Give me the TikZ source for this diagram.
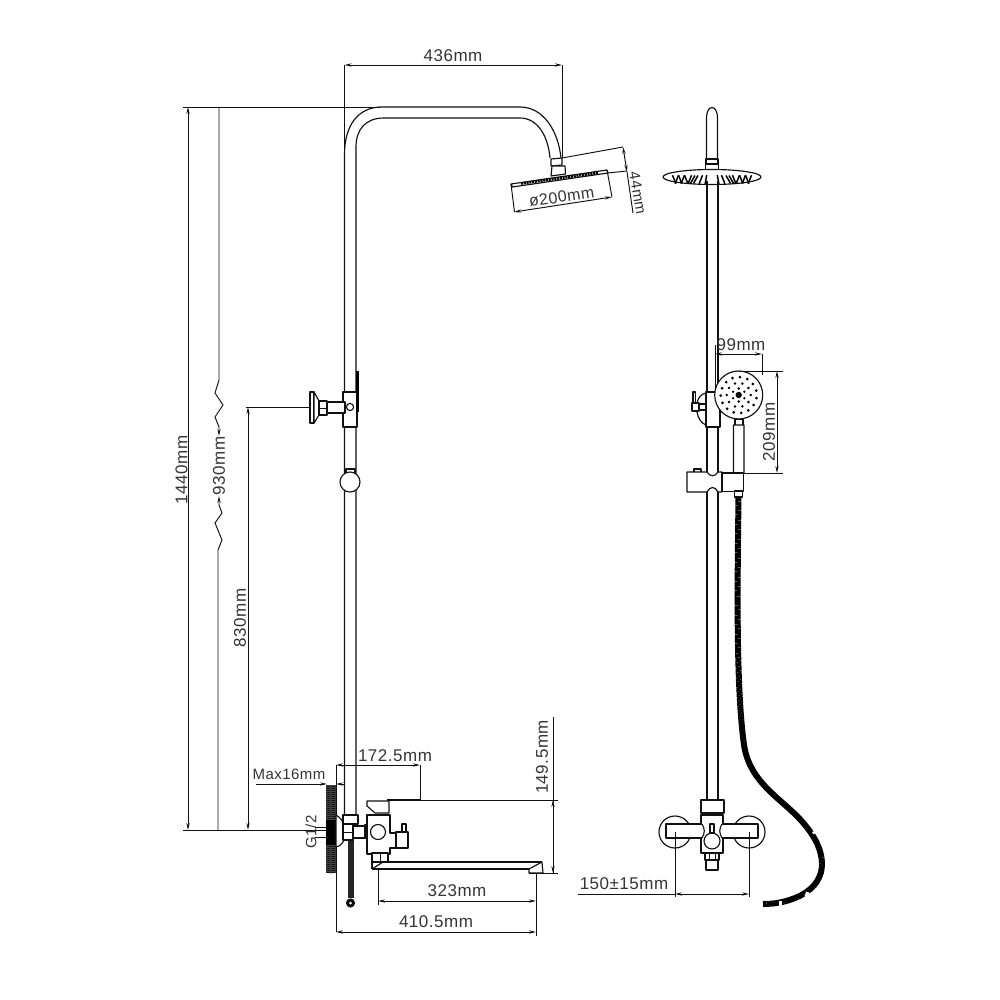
\documentclass[tikz,border=0pt]{standalone}
\usepackage{fontspec}
\setmainfont{Liberation Sans}[LetterSpace=3]
\usetikzlibrary{arrows.meta}
\definecolor{ink}{HTML}{111111}
\tikzset{
  obj/.style={line width=1.15pt,draw=ink,line join=round},
  thinl/.style={line width=.95pt,draw=ink},
  dimen/.style={line width=.95pt,draw=ink,{Stealth[length=7pt,width=3.2pt]}-{Stealth[length=7pt,width=3.2pt]}},
  tipend/.style={line width=.95pt,draw=ink,-{Stealth[length=7pt,width=3.2pt]}},
  lab/.style={inner sep=0pt,text=ink!85,font=\fontsize{17}{17}\selectfont},
  hatch/.style={line width=.6pt,draw=black},
}
\begin{document}
\begin{tikzpicture}[x=1pt,y=-1pt]
\path[use as bounding box,fill=white] (0,0) rectangle (1000,1000);

%% ---- LEFT VIEW ----
% riser and arm
\draw[obj] (344.5,815) -- (344.5,153) .. controls (345,125) and (358,108) .. (380,107) -- (520,107)
  .. controls (543,107) and (558,130) .. (561,158);
\draw[obj] (356,815) -- (356,147) .. controls (356,130) and (365,118) .. (384,118) -- (520,118)
  .. controls (537,118) and (548,135) .. (550,158);
% neck
\draw[obj,fill=white] (551,159) -- (562,158) -- (562,165) -- (551,166) -- cycle;
\draw[obj,fill=white] (552,166) -- (565,166) -- (565.5,174) -- (551,176) -- cycle;
% head
\draw[obj,fill=white] (511,184) -- (607,170) -- (608,173) -- (512.5,187) -- cycle;
\draw[line width=2.6pt,draw=black,dash pattern=on 2pt off .8pt] (521,183.5) -- (598,172.8);
% head dimensions
\draw[thinl] (511,184) -- (514.5,212);
\draw[thinl] (607,170) -- (612,197);
\draw[dimen] (514,212) -- (612,197);
\node[lab,rotate=8,font=\fontsize{16}{16}\selectfont] (d200) at (561.5,197) {ø200mm};
\draw[thinl] (562,158) -- (623,147);
\draw[thinl] (608,173) -- (627,171);
\draw[dimen] (623,147) -- (627,172);
\draw[thinl] (627,172) -- (633,213);
\node[lab,rotate=-80,font=\fontsize{15}{15}\selectfont] (d44) at (638,193) {44mm};
% 436
\draw[thinl] (344.5,65) -- (344.5,153);
\draw[thinl] (562,65) -- (562,158);
\draw[dimen] (344.5,65) -- (562,65);
\node[lab] (d436) at (453,56) {436mm};

% long dimensions
\draw[thinl] (183,107) -- (380,107);
\draw[thinl] (183,830) -- (345,830);
\draw[dimen] (188,107) -- (188,830);
\node[lab,rotate=90] (d1440) at (181.5,470) {1440mm};
\draw[tipend] (219,107) -- (219,380) -- (215,393) -- (223,405) -- (215,417) -- (219,427) -- (219,436);
\draw[tipend] (218,830) -- (218,550) -- (222,540) -- (215,523) -- (222,513) -- (219,505) -- (219,496);
\node[lab,rotate=90] (d930) at (219,466) {930mm};
\draw[thinl] (246,407) -- (310,407);
\draw[dimen] (248,407) -- (248,830);
\node[lab,rotate=90] (d830) at (240,618) {830mm};

% slider bracket
\draw[obj,fill=white] (343,392) rectangle (357,427);
\draw[line width=2.4pt,draw=black,dash pattern=on 2.5pt off .5pt] (357.5,371) -- (357.5,412);
\draw[obj,fill=white] (310,392) rectangle (314,423);
\draw[obj,fill=white] (314,392) -- (319,401) -- (319,415) -- (314,423) -- cycle;
\draw[obj,fill=white] (319,401) rectangle (327,415);
\draw[thinl] (319,408) -- (327,408);
\draw[obj,fill=white] (327,402) -- (345,402) -- (345,413) -- (327,413) -- cycle;
\draw[obj,fill=white] (350,407) circle[radius=3.6pt];
% ball
\draw[obj,fill=white] (346,469) rectangle (355,474);
\draw[obj,fill=white] (350,482) circle[radius=10pt];

% dim 172.5 & Max16
\draw[thinl] (336,765) -- (336,932);
\draw[dimen] (336,765) -- (420,765);
\draw[thinl] (420,765) -- (420,800);
\node[lab] (d172) at (395,756) {172.5mm};
\draw[tipend] (256,784) -- (327,784);
\draw[tipend] (344,784) -- (336,784);
\node[lab,font=\fontsize{15}{15}\selectfont] (dmax) at (289,774) {Max16mm};
\node[lab,rotate=90,font=\fontsize{15}{15}\selectfont] (dg) at (311,832) {G1/2};

% wall
\fill[black!70] (326,785) rectangle (336,873);
\foreach \yy in {786,788,...,872} \draw[hatch,black] (326,\yy) -- (331,\yy+1) -- (336,\yy);
\fill[black] (326,820) rectangle (336,845);
% supply
\draw[thinl] (315,827) -- (326,827);
\draw[thinl] (315,837) -- (326,837);
% flange
\draw[obj,fill=white] (336,815) .. controls (341,818) and (344,822) .. (344,827) -- (344,838)
   .. controls (344,842) and (341,846) .. (336,847) -- cycle;
% rod
\draw[line width=6pt,draw=black!85] (350.5,840) -- (350.5,898);
\draw[obj,fill=black] (350.5,903) circle[radius=4pt];
\fill[white] (350.5,903) circle[radius=1.5pt];
% diverter
\draw[obj,fill=white] (343,815) rectangle (358,824);
\draw[obj,fill=white] (353,826) rectangle (366,838);
\draw[obj,fill=white] (343,824) rectangle (353,840);
\draw[thinl] (343,832) -- (353,832);
\draw[obj,fill=white] (365,825) rectangle (370,837);
% body
\draw[obj,fill=white] (367,815) -- (390,815) -- (390,833) -- (396,833) -- (396,848) -- (390,848) -- (390,854) -- (367,854) -- cycle;
\draw[obj,fill=white] (378,832) circle[radius=7.5pt];
\draw[obj,fill=white] (396,832) rectangle (408,848);
\draw[obj,fill=white] (402,824) rectangle (406,832);
% lever
\draw[obj,fill=white] (367,801) -- (389,801) -- (389,813) -- (375,813) -- (367,806) -- cycle;
\draw[line width=1.6pt,draw=ink] (387,800) -- (420,800);
\draw[thinl] (420,800) -- (558,800);
% spout
\draw[obj,fill=white] (372,853) rectangle (388,862);
\draw[obj] (372,862) -- (372,869);
\draw[obj] (372,869) -- (383,862);
\draw[thinl] (380,853) -- (380,862);
\draw[obj] (372,862) -- (542,862);
\draw[obj] (372,869) -- (529,869);
\draw[obj,fill=white] (542,862) -- (529,869) -- (529,873) -- (543,873) -- cycle;
% lower dims
\draw[thinl] (378,869) -- (378,905);
\draw[thinl] (536,873) -- (536,936);
\draw[dimen] (378,901) -- (536,901);
\node[lab] (d323) at (457,891) {323mm};
\draw[dimen] (336,932) -- (536,932);
\node[lab] (d410) at (436,922) {410.5mm};
% 149.5
\draw[thinl] (553,717) -- (553,873);
\draw[dimen] (553,800) -- (553,873);
\draw[thinl] (529,873) -- (558,873);
\node[lab,rotate=90] (d149) at (542,757) {149.5mm};

%% ---- RIGHT VIEW ----
% arm
\draw[obj] (706.5,159) -- (706.5,118) .. controls (706.5,104) and (717.5,104) .. (717.5,118) -- (717.5,159);
\draw[obj,fill=white] (706,159) rectangle (718,164);
\draw[obj,fill=white] (705.5,164) rectangle (718.5,172);
\draw[obj,fill=white] (712,177) ellipse[x radius=49pt,y radius=7.5pt];
\foreach \xx/\aa in {674/22,677/-22,680/22,683/-22,686/22,690/-22,693/-30,696/-30,701/-22,706/-10,718/10,723/22,728/30,731/30,734/22,738/-22,741/22,744/-22,747/22,750/-22}{
  \draw[line width=1.5pt,draw=black,rotate around={\aa:(\xx,179)}] (\xx,175) -- (\xx,184);
}
% riser
\draw[obj] (707,181) -- (707,392);
\draw[obj] (718,181) -- (718,392);
\draw[obj] (707,427) -- (707,472);
\draw[obj] (718,427) -- (718,472);
\draw[obj] (707,492) -- (707,800);
\draw[obj] (718,492) -- (718,800);
% 99mm
\draw[thinl] (715,345) -- (715,392);
\draw[thinl] (762,354) -- (762,375);
\draw[dimen] (715,354) -- (762,354);
\node[lab] (d99) at (741,345) {99mm};
% valve behind
\draw[obj] (706,393) .. controls (701,394) and (698,398) .. (697,403);
\draw[obj] (697,412) .. controls (698,418) and (701,423) .. (706,425);
\draw[obj,fill=white] (693,392) rectangle (695.5,403);
\draw[obj,fill=white] (692,403) rectangle (699,411);
\draw[obj,fill=white] (699,404) rectangle (706,410);
\draw[obj,fill=white] (706,392) rectangle (720,427);
% handset
\draw[obj,fill=white] (735,419) rectangle (743,426);
\draw[obj,fill=white] (733.5,425) -- (744,425) -- (744,473) .. controls (740,475) and (737,475) .. (733.5,473) -- cycle;
\draw[obj,fill=white] (738.7,395) circle[radius=24pt];
\fill[black] (738.7,395) circle[radius=3.2pt];
\foreach \a in {0,60,...,300} \fill[black] ({738.7+6.5*cos(\a+30)},{395+6.5*sin(\a+30)}) circle[radius=1.3pt];
\foreach \a in {0,36,...,324} \fill[black] ({738.7+12*cos(\a)},{395+12*sin(\a)}) circle[radius=1.4pt];
\foreach \a in {0,24,...,336} \fill[black] ({738.7+18*cos(\a+10)},{395+18*sin(\a+10)}) circle[radius=1.5pt];
% 209
\draw[thinl] (739,371) -- (783,371);
\draw[thinl] (743,473) -- (783,473);
\draw[dimen] (777,371) -- (777,473);
\node[lab,rotate=90] (d209) at (769,432) {209mm};
% holder
\draw[obj,fill=white] (694,469) rectangle (701,472.5);
\draw[obj,fill=white] (722,473) rectangle (743.5,491.5);
\draw[obj,fill=white] (687,472) -- (707,472) .. controls (710,477) and (715,477) .. (718,472) -- (722,472) -- (722,492) -- (718,492)
  .. controls (715,486) and (710,486) .. (707,492) -- (687,492) -- cycle;
\draw[line width=2pt,draw=ink] (722,472) -- (722,492);
% hose
\draw[line width=6pt,draw=black,dash pattern=on 1.6pt off .3pt]
  (738.5,492) .. controls (738,560) and (735,680) .. (744,745)
  .. controls (750,785) and (785,800) .. (805,825)
  .. controls (830,855) and (828,885) .. (795,898)
  .. controls (785,902) and (775,904) .. (763,904);
\draw[obj,fill=white] (734.5,491) rectangle (742.5,497);
\fill[white,rotate around={40:(815,832)}] (812.5,830.5) rectangle (817.5,833);
\fill[white,rotate around={-20:(807,895)}] (805,892) rectangle (809,897);
\fill[white] (779,901) rectangle (782,906);
% valve
\draw[obj,fill=white] (675,832) circle[radius=16pt];
\draw[obj,fill=white] (749,832) circle[radius=16pt];
\draw[obj,fill=white] (701,800) rectangle (724,813);
\draw[line width=1.6pt,draw=ink] (701,800.5) -- (724,800.5);
\draw[obj,fill=white] (701,815) rectangle (723,853);
\draw[obj,fill=white] (666,824) rectangle (701,838);
\draw[obj,fill=white] (723,824) rectangle (758,838);
\fill[white] (699,825) rectangle (702.5,837);
\fill[white] (721.5,825) rectangle (725,837);
\draw[obj] (702,824) .. controls (705,829) and (705,833) .. (702,838);
\draw[obj] (722,824) .. controls (719,829) and (719,833) .. (722,838);
\draw[obj,fill=white] (712,841) circle[radius=8pt];
\draw[obj,fill=white] (710,824) rectangle (714,833);
\draw[obj,fill=white] (705,853) rectangle (719,860);
\draw[obj,fill=white] (706,860) rectangle (718,870);
\draw[thinl] (709,853) -- (709,860);
\draw[thinl] (715,853) -- (715,860);
% 150
\draw[thinl] (675,832) -- (675,897);
\draw[thinl] (749,832) -- (749,897);
\draw[thinl] (578,894) -- (675,894);
\draw[dimen] (675,894) -- (749,894);
\node[lab] (d150) at (624,884) {150±15mm};
\end{tikzpicture}
\end{document}
